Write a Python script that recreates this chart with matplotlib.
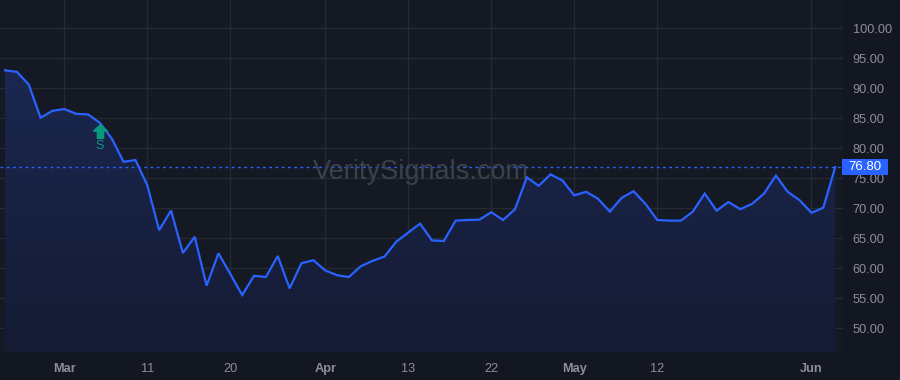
import numpy as np
import matplotlib
matplotlib.use('Agg')
from matplotlib import pyplot as plt
from matplotlib.path import Path
from matplotlib.patches import Rectangle
import matplotlib.transforms as mtransforms

# daily closes, one per bar
values = [92.95, 92.7, 90.6, 85.05, 86.2, 86.5, 85.7, 85.6, 84.2, 81.6,
          77.7, 78.0, 73.8, 66.3, 69.6, 62.5, 65.2, 57.05, 62.45, 59.0,
          55.5, 58.7, 58.5, 62.0, 56.6, 60.8, 61.3, 59.6, 58.8, 58.5,
          60.3, 61.2, 61.9, 64.4, 65.9, 67.4, 64.6, 64.5, 67.9, 68.0,
          68.05, 69.3, 68.0, 69.8, 75.1, 73.7, 75.6, 74.6, 72.1, 72.7,
          71.55, 69.4, 71.7, 72.8, 70.7, 68.0, 67.9, 67.9, 69.4, 72.4,
          69.55, 71.0, 69.8, 70.7, 72.4, 75.4, 72.7, 71.3, 69.2, 70.05,
          76.8]
tick_idx = [5, 12, 19, 27, 34, 41, 48, 55, 68]
tick_labels = ['Mar', '11', '20', 'Apr', '13', '22', 'May', '12', 'Jun']
month_ticks = ['Mar', 'Apr', 'May', 'Jun']
y_ticks = [50, 55, 60, 65, 70, 75, 80, 85, 90, 95, 100]
signal_idx = 8
signal_text = 'S'
last_price = values[-1]

bg = '#131722'
plot_bg = '#151924'
grid_c = '#262a35'
text_c = '#8c8f99'
blue = '#2962ff'
green = '#089981'

plt.rcParams['font.family'] = ['Liberation Sans', 'DejaVu Sans']

fig = plt.figure(figsize=(9, 3.8), dpi=100, facecolor=bg)
ax = fig.add_axes([0, 1 - 352 / 380, 843 / 900, 352 / 380])
ax.set_facecolor(plot_bg)

x = np.arange(len(values))
y = np.array(values)

ax.set_xlim(-0.42, 70.66)
ax.set_ylim(46.0, 104.67)

# gradient area under the line
poly = ax.fill_between(x, y, 46.0, color='none', lw=0)
grad = np.linspace(0.0, 1.0, 256).reshape(-1, 1)
cmap = matplotlib.colors.LinearSegmentedColormap.from_list('g', ['#151b33', '#1b2750'])
img = ax.imshow(grad, extent=[x[0], x[-1], 46.0, max(values)], origin='lower',
                aspect='auto', cmap=cmap, zorder=1)
img.set_clip_path(poly.get_paths()[0], transform=ax.transData)

ax.plot(x, y, color=blue, lw=1.6, zorder=3, solid_joinstyle='miter')

# last price line + label box on the price scale
ax.axhline(last_price, color=blue, lw=1, ls=(0, (2, 2.5)), zorder=2)
ytr = ax.get_yaxis_transform()
box_h = 16 / 6.0   # 16 px, 6 px per unit
ax.add_patch(Rectangle((1.0 - 1 / 843, last_price - box_h / 2), 46 / 843, box_h,
                       transform=ytr, fc=blue, ec='none', clip_on=False, zorder=5))
ax.text(865 / 843, last_price, f'{last_price:.2f}', transform=ytr,
        ha='center', va='center', color='white', fontsize=9.5, zorder=6, clip_on=False)

# signal marker
arrow = Path([(0, 1), (-1, 0.05), (-0.45, 0.05), (-0.45, -1), (0.45, -1),
              (0.45, 0.05), (1, 0.05), (0, 1)])
off1 = mtransforms.offset_copy(ax.transData, fig=fig, x=0, y=-8.5, units='dots')
ax.plot([signal_idx], [values[signal_idx]], marker=arrow, ms=10, color=green,
        transform=off1, zorder=4)
off2 = mtransforms.offset_copy(ax.transData, fig=fig, x=0, y=-23, units='dots')
ax.text(signal_idx, values[signal_idx], signal_text, transform=off2, color=green,
        fontsize=9, ha='center', va='center', zorder=4)

# watermark
ax.text(421 / 843, 1 - 172 / 352, 'VeritySignals.com', transform=ax.transAxes,
        ha='center', va='center', fontsize=19.5, color='#3c404a', zorder=2)

# axes, ticks, grid
ax.yaxis.tick_right()
ax.set_yticks(y_ticks)
ax.set_yticklabels([f'{v:.2f}' for v in y_ticks])
ax.set_xticks(tick_idx)
ax.set_xticklabels(tick_labels)
for lab in ax.get_xticklabels():
    if lab.get_text() in month_ticks:
        lab.set_fontweight('bold')
ax.tick_params(axis='y', length=0, pad=7, labelsize=9.2, labelcolor=text_c)
ax.tick_params(axis='x', length=0, pad=8, labelsize=9.2, labelcolor=text_c)
ax.grid(True, color=grid_c, lw=0.9, zorder=0)
ax.set_axisbelow(True)
for s in ax.spines.values():
    s.set_visible(False)

fig.savefig('out.png', dpi=100, facecolor=bg)
